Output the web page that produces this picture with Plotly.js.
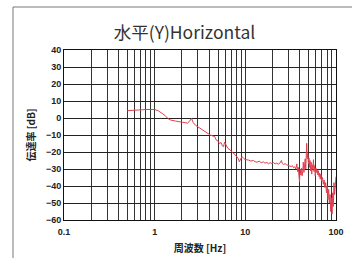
<!DOCTYPE html>
<html><head><meta charset="utf-8">
<script src="https://cdn.plot.ly/plotly-3.0.1.min.js"></script>
<style>html,body{margin:0;padding:0;background:#fff;}#c{width:352px;height:258px;}</style>
</head><body><div id="c"></div>
<script>
const freqHz = [0.5,0.55,0.6,0.7,0.8,0.9,1.0,1.1,1.2,1.3,1.4,1.5,1.7,1.9,2.1,2.3,2.4,2.5,2.55,2.65,2.8,3.0,3.2,3.4,3.6,3.85,4.1,4.4,4.6,4.75,5.0,5.2,5.4,5.6,5.75,5.9,6.1,6.4,6.8,7.2,7.5,7.9,8.3,8.6,8.9,9.2,9.6,10.0,10.8,11.5,12.3,12.8,13.5,14.2,15,15.8,16.5,17.3,18,18.8,19.6,20.5,21.3,22.2,23,24,25,25.6,26.5,27.5,28.5,29.6,31,32,33,34,35,36,37,37.7,38.3,39,39.6,40.2,41,41.6,42.3,43,43.6,44.3,45,45.7,46.4,47,47.5,48.2,48.9,49.6,50.3,51,51.7,52.4,53.2,54,54.8,55.6,56.4,57.2,58,59,60,61,62,63,64,65,66,67,68,69.5,71,72.5,74,75.5,77,78.5,80,81.5,83,84.5,86,87.5,89,90.5,92,93.5,95,96.5,98,100];
const gainDb = [4.3,4.5,4.7,4.9,5.0,5.0,5.0,4.2,2.8,1.5,-0.3,-1.2,-1.8,-2.2,-2.6,-3.0,-2.2,-0.5,-0.2,-2.5,-4.1,-5.2,-6.2,-7.0,-8.0,-9.0,-10.0,-10.6,-11.0,-12.8,-13.6,-15.0,-14.4,-16.5,-16.9,-14.2,-15.5,-17.8,-18.8,-20.0,-21.0,-22.2,-23.7,-25.7,-24.0,-22.7,-23.8,-24.5,-24.7,-25.3,-25.0,-25.7,-26.0,-25.4,-26.3,-25.8,-26.6,-26.1,-26.9,-26.3,-26.8,-26.2,-27.0,-26.5,-27.2,-26.6,-25.0,-26.8,-27.3,-26.9,-27.5,-27.8,-28.3,-28.6,-28.0,-29.2,-28.7,-30.0,-27.0,-31.5,-29.0,-33.0,-37.5,-30.0,-33.5,-29.5,-34.0,-31.0,-26.0,-32.0,-28.0,-24.0,-30.0,-22.0,-14.9,-24.0,-21.0,-27.0,-23.5,-29.0,-25.0,-31.0,-26.0,-33.0,-27.5,-30.0,-24.5,-31.5,-28.0,-34.0,-29.5,-32.0,-30.5,-33.5,-31.0,-34.5,-32.5,-36.0,-33.0,-37.0,-35.0,-39.0,-36.5,-41.0,-38.0,-44.0,-40.0,-48.0,-42.0,-50.0,-45.0,-55.0,-47.0,-56.5,-44.0,-52.0,-38.0,-45.0,-36.5,-34.5];
const xDecades = [0.1,1,10,100];
const xTickLabels = ['0.1','1','10','100'];
const yTicks = [40,30,20,10,0,-10,-20,-30,-40,-50,-60];

const xGridVals = [], xGridText = [];
for (let d = 0; d < 3; d++) {
  for (let m = 1; m <= 9; m++) {
    const v = +(xDecades[d]*m).toPrecision(3);
    xGridVals.push(v);
    xGridText.push(m === 1 ? xTickLabels[d] : '');
  }
}
xGridVals.push(xDecades[3]); xGridText.push(xTickLabels[3]);

const tickFont = {family:'Liberation Sans, Arial, sans-serif', size:9, color:'#222', weight:'bold'};
const trace = {x:freqHz, y:gainDb, type:'scatter', mode:'lines',
  line:{color:'#e0404f', width:1}, hoverinfo:'skip'};
const layout = {
  width:352, height:258,
  margin:{l:64, r:16, t:50, b:38},
  paper_bgcolor:'#fff', plot_bgcolor:'#fff',
  showlegend:false,
  title:{text:'水平(Y)Horizontal', x:0.443, xref:'paper', xanchor:'center', y:0.872, yref:'container', yanchor:'middle',
    font:{family:'Noto Sans CJK JP, sans-serif', size:17.5, color:'#333'}},
  xaxis:{type:'log', range:[-1,2], tickmode:'array', tickvals:xGridVals, ticktext:xGridText,
    showgrid:true, gridcolor:'#333', gridwidth:1, ticks:'', tickfont:tickFont, ticklabelstandoff:3,
    showline:true, linecolor:'#111', linewidth:1, mirror:true, zeroline:false,
    title:{text:'周波数 [Hz]', standoff:9, font:{family:'Noto Sans CJK JP, sans-serif', size:10, color:'#222', weight:'bold'}}},
  yaxis:{range:[-60,40], tickmode:'array', tickvals:yTicks, showgrid:true, gridcolor:'#222', gridwidth:1,
    ticks:'', tickfont:tickFont, showline:true, linecolor:'#111', linewidth:1, mirror:true, zeroline:false,
    title:{text:'伝達率 [dB]', standoff:8, font:{family:'Noto Sans CJK JP, sans-serif', size:10, color:'#222', weight:'bold'}}},
  shapes:[
    {type:'line', xref:'paper', yref:'paper', x0:-0.1875, x1:1.06, y0:1.2529, y1:1.2529, line:{color:'#777', width:1}},
    {type:'line', xref:'paper', yref:'paper', x0:-0.1875, x1:-0.1875, y0:1.2529, y1:-0.23, line:{color:'#777', width:1}}
  ]
};
Plotly.newPlot('c', [trace], layout, {staticPlot:true, displayModeBar:false});
</script></body></html>
